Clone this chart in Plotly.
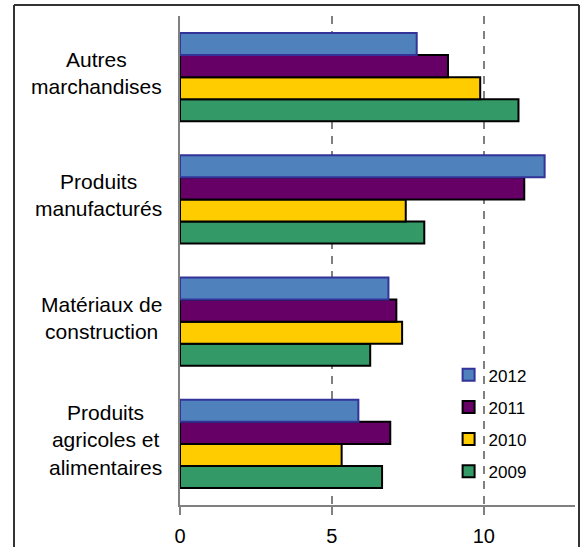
import plotly.graph_objects as go

categories = ["Produits<br>agricoles et<br>alimentaires",
              "Matériaux de<br>construction",
              "Produits<br>manufacturés",
              "Autres<br>marchandises"]
series_names = ["2009", "2010", "2011", "2012"]
values_2009 = [6.65, 6.26, 8.04, 11.14]
values_2010 = [5.32, 7.31, 7.43, 9.88]
values_2011 = [6.92, 7.12, 11.33, 8.82]
values_2012 = [5.87, 6.86, 12.0, 7.79]
x_ticks = [0, 5, 10]

series_values = [values_2009, values_2010, values_2011, values_2012]
fills = ["#339966", "#FFCC00", "#660066", "#4F81BD"]
edges = ["#000000", "#000000", "#000000", "#333399"]
ranks = [4, 3, 2, 1]

fig = go.Figure()
for name, vals, fc, ec, rk in zip(series_names, series_values, fills, edges, ranks):
    fig.add_trace(go.Bar(
        y=categories, x=vals, name=name, orientation="h",
        marker=dict(color=fc, line=dict(color=ec, width=2)),
        legendgroup=name, legendrank=rk,
    ))

annotations = []
for c in categories:
    annotations.append(dict(
        x=-0.04, xref="paper", y=c, yref="y", text=c, showarrow=False,
        xanchor="right", yanchor="middle", align="center", yshift=4,
        font=dict(family="Liberation Sans, Arial", size=21, color="#000000"),
    ))

W, H = 582, 547
L, R, T, B = 180, 7, 16, 42
pw, ph = W - L - R, H - T - B


def px_x(p):
    return (p - L) / pw


def px_y(p):
    return (H - B - p) / ph


border = dict(color="#333333", width=2)
shapes = [
    dict(type="line", xref="paper", yref="paper", x0=px_x(14), x1=px_x(579),
         y0=px_y(5), y1=px_y(5), line=border),
    dict(type="line", xref="paper", yref="paper", x0=px_x(14), x1=px_x(14),
         y0=px_y(5), y1=px_y(560), line=border),
    dict(type="line", xref="paper", yref="paper", x0=px_x(579), x1=px_x(579),
         y0=px_y(5), y1=px_y(560), line=border),
]

fig.update_layout(
    width=W, height=H,
    margin=dict(l=L, r=R, t=T, b=B, autoexpand=False),
    paper_bgcolor="white", plot_bgcolor="white",
    barmode="group", bargap=0.28, bargroupgap=0,
    font=dict(family="Liberation Sans, Arial", size=20, color="#000000"),
    xaxis=dict(range=[0, 13], tickvals=x_ticks, ticktext=[str(t) for t in x_ticks],
               showgrid=True, gridcolor="#808080", griddash="8px,7px", gridwidth=1.5,
               showline=True, linecolor="#808080", linewidth=2,
               ticks="outside", ticklen=8, tickcolor="#808080", tickwidth=1.5,
               ticklabelstandoff=4, zeroline=False, automargin=False),
    yaxis=dict(categoryorder="array", categoryarray=categories, automargin=False,
               showticklabels=False, showline=True, linecolor="#808080", linewidth=2,
               showgrid=False, zeroline=False, ticks=""),
    legend=dict(x=0.68, y=0.302, xanchor="left", yanchor="top",
                traceorder="grouped", tracegroupgap=7,
                font=dict(size=17), bgcolor="rgba(0,0,0,0)"),
    annotations=annotations,
    shapes=shapes,
)

fig.write_html("out.html", config={"displayModeBar": False},
               post_script="document.body.style.margin='0';document.body.style.padding='0';")
